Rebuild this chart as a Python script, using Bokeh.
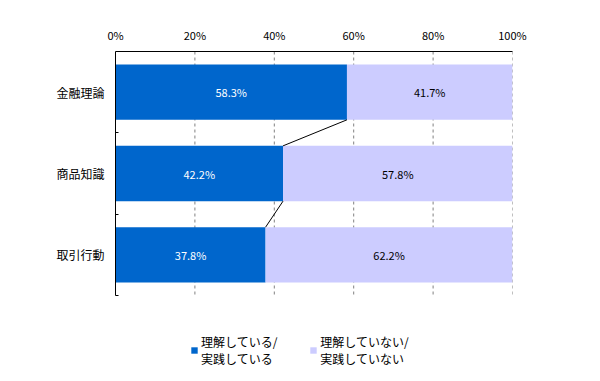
from bokeh.plotting import figure
from bokeh.models import Range1d, FixedTicker, LinearAxis, Legend, LegendItem, ColumnDataSource
from bokeh.embed import file_html
from bokeh.resources import INLINE
from bokeh.core.properties import value

categories = ["金融理論", "商品知識", "取引行動"]
practice = [58.3, 42.2, 37.8]
not_practice = [41.7, 57.8, 62.2]
series_names = ["理解している/\n実践している", "理解していない/\n実践していない"]
x_ticks = [0, 20, 40, 60, 80, 100]

FONT = "Noto Sans CJK JP"
BLUE = "#0066CC"
LIGHT = "#CCCCFF"
BAR_H = 0.68

W, H = 592, 373
TOP, LEFT, RIGHT = 51, 115, 80
PLOT_H = 244          # height of the bar area in px
FRAME_H = H - TOP     # frame extends to bottom so the legend lives inside it

n = len(categories)
ys = [i + 0.5 for i in range(n)]
y_max = n * FRAME_H / PLOT_H

p = figure(width=W, height=H, output_backend="svg", toolbar_location=None,
           x_range=Range1d(0, 100), y_range=Range1d(y_max, 0),
           x_axis_location=None, y_axis_location=None,
           min_border_left=LEFT, min_border_right=RIGHT, min_border_top=TOP, min_border_bottom=0)
p.outline_line_color = None
p.background_fill_color = "white"
p.xgrid.visible = False
p.ygrid.visible = False

# top axis
xa = LinearAxis(ticker=FixedTicker(ticks=x_ticks),
                major_label_overrides={t: f"{t}%" for t in x_ticks})
xa.major_tick_line_color = None
xa.minor_tick_line_color = None
xa.axis_line_color = "black"
xa.major_label_text_font = FONT
xa.major_label_text_font_size = "11px"
xa.major_label_text_color = "black"
xa.major_label_standoff = 3
p.add_layout(xa, "above")

# left axis
ya = LinearAxis(ticker=FixedTicker(ticks=ys, minor_ticks=list(range(1, n + 1))),
                major_label_overrides={y: c for y, c in zip(ys, categories)},
                bounds=(0, n))
ya.major_tick_line_color = None
ya.minor_tick_in = 3
ya.minor_tick_out = 0
ya.minor_tick_line_color = "black"
ya.axis_line_color = "black"
ya.major_label_text_font = FONT
ya.major_label_text_font_size = "12px"
ya.major_label_text_color = "black"
ya.major_label_standoff = 5
p.add_layout(ya, "left")

# dashed vertical grid lines over the bar area
gx = x_ticks[1:]
p.segment(x0=gx, y0=[0] * len(gx), x1=gx, y1=[n] * len(gx),
          line_color="#808080", line_dash="3 3", line_width=1)

src = ColumnDataSource(dict(y=ys, a=practice, b=not_practice,
                            total=[a + b for a, b in zip(practice, not_practice)],
                            amid=[a / 2 for a in practice],
                            bmid=[a + b / 2 for a, b in zip(practice, not_practice)],
                            alab=[f"{a:.1f}%" for a in practice],
                            blab=[f"{b:.1f}%" for b in not_practice]))

r1 = p.hbar(y="y", left=0, right="a", height=BAR_H, fill_color=BLUE, line_color=None, source=src)
r2 = p.hbar(y="y", left="a", right="total", height=BAR_H, fill_color=LIGHT, line_color=None, source=src)

# connector lines between series boundaries
p.segment(x0=practice[:-1], y0=[y + BAR_H / 2 for y in ys[:-1]],
          x1=practice[1:], y1=[y - BAR_H / 2 for y in ys[1:]],
          line_color="black", line_width=1)

p.text(x="amid", y="y", text="alab", source=src, text_color="white",
       text_font=value(FONT), text_font_size="11px", text_align="center", text_baseline="middle")
p.text(x="bmid", y="y", text="blab", source=src, text_color="black",
       text_font=value(FONT), text_font_size="11px", text_align="center", text_baseline="middle")

legend = Legend(items=[LegendItem(label=series_names[0], renderers=[r1]),
                       LegendItem(label=series_names[1], renderers=[r2])],
                orientation="horizontal", location=(75, 6))
legend.label_text_font = FONT
legend.label_text_font_size = "12px"
legend.label_text_color = "black"
legend.label_text_line_height = 1.0
legend.glyph_width = 8
legend.glyph_height = 8
legend.label_standoff = 3
legend.spacing = 32
legend.border_line_color = None
legend.background_fill_alpha = 0
legend.padding = 0
legend.margin = 0
p.add_layout(legend, "center")

open("out.html", "w").write(file_html(p, INLINE))
